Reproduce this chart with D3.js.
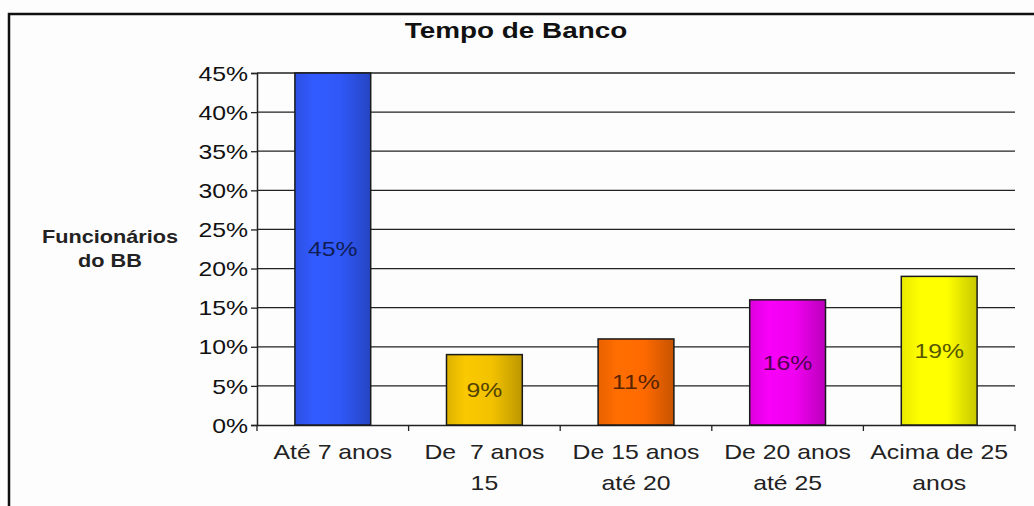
<!DOCTYPE html>
<html>
<head>
<meta charset="utf-8">
<script src="https://cdn.jsdelivr.net/npm/d3@7"></script>
<style>
  body { margin: 0; background: #fdfdfd; }
  svg { display: block; font-family: "Liberation Sans", Arial, sans-serif; }
</style>
</head>
<body>
<svg id="chart" width="1034" height="506"></svg>
<script>
"use strict";

// data
var categories = ["Até 7 anos", "De  7 anos|15", "De 15 anos|até 20", "De 20 anos|até 25", "Acima de 25|anos"];
var values = [45, 9, 11, 16, 19];
var barColors = ["#3058f8", "#f2c200", "#ff6a00", "#f000f0", "#ffff00"];
var yTicks = [0, 5, 10, 15, 20, 25, 30, 35, 40, 45];

// the original picture is stretched sideways, so is its text
var SX = 1.24;

var margin = { top: 73, right: 19, bottom: 81, left: 257 },
    width = 1034 - margin.left - margin.right,
    height = 506 - margin.top - margin.bottom;

var svg = d3.select("#chart");

// frame (left + top only)
svg.append("path")
  .attr("d", "M9,506 V14 H1034")
  .attr("fill", "none")
  .attr("stroke", "#111")
  .attr("stroke-width", 2.5);

svg.append("text")
  .attr("transform", "translate(516,38) scale(" + SX + ",1)")
  .attr("text-anchor", "middle")
  .style("font-size", "22.5px").style("font-weight", "bold")
  .attr("fill", "#111")
  .text("Tempo de Banco");

svg.append("text")
  .attr("transform", "translate(110,243) scale(" + SX + ",1)")
  .attr("text-anchor", "middle")
  .style("font-size", "17.5px").style("font-weight", "bold")
  .attr("fill", "#222")
  .selectAll("tspan")
  .data(["Funcionários", "do BB"])
  .join("tspan")
  .attr("x", 0)
  .attr("dy", function (d, i) { return i ? 24 : 0; })
  .text(function (d) { return d; });

var g = svg.append("g").attr("transform", "translate(" + margin.left + "," + margin.top + ")");

var x = d3.scaleBand().domain(categories).range([0, width]).paddingInner(0.5).paddingOuter(0.25);
var y = d3.scaleLinear().domain([0, 45]).range([height, 0]);

// gradients per bar
var defs = svg.append("defs");
barColors.forEach(function (c, i) {
  var lg = defs.append("linearGradient").attr("id", "grad" + i)
    .attr("x1", "0%").attr("x2", "100%").attr("y1", "0%").attr("y2", "0%");
  var base = d3.color(c);
  lg.append("stop").attr("offset", "0%").attr("stop-color", base.darker(0.25));
  lg.append("stop").attr("offset", "25%").attr("stop-color", base.brighter(0.1));
  lg.append("stop").attr("offset", "60%").attr("stop-color", base);
  lg.append("stop").attr("offset", "100%").attr("stop-color", base.darker(0.7));
});

// gridlines
g.append("g")
  .selectAll("line")
  .data(yTicks.slice(1))
  .join("line")
  .attr("x1", 0).attr("x2", width)
  .attr("y1", function (d) { return y(d); })
  .attr("y2", function (d) { return y(d); })
  .attr("stroke", "#222").attr("stroke-width", 1.3);

// y axis
var yAxis = g.append("g")
  .call(d3.axisLeft(y).tickValues(yTicks).tickSize(6).tickFormat(function (d) { return d + "%"; }));
yAxis.select(".domain").attr("stroke", "#222").attr("stroke-width", 1.5);
yAxis.selectAll(".tick line").attr("stroke", "#222").attr("stroke-width", 1.3);
yAxis.selectAll(".tick text")
  .attr("x", -9 / SX).attr("dy", "0.36em")
  .attr("transform", "scale(" + SX + ",1)")
  .attr("fill", "#111")
  .style("font-size", "20px");

// x axis
var xAxis = g.append("g")
  .attr("transform", "translate(0," + height + ")")
  .call(d3.axisBottom(x).tickSize(0).tickFormat(""));
xAxis.select(".domain").attr("stroke", "#222").attr("stroke-width", 1.5);
xAxis.selectAll(".tick").remove();

// category separators (ticks between bands)
var step = x.step();
g.append("g")
  .selectAll("line")
  .data(d3.range(categories.length + 1))
  .join("line")
  .attr("x1", function (i) { return i * step; })
  .attr("x2", function (i) { return i * step; })
  .attr("y1", height).attr("y2", height + 6)
  .attr("stroke", "#222").attr("stroke-width", 1.3);

// category labels
g.append("g")
  .selectAll("text")
  .data(categories)
  .join("text")
  .attr("transform", function (d) { return "translate(" + (x(d) + x.bandwidth() / 2) + "," + (height + 34) + ") scale(" + SX + ",1)"; })
  .attr("text-anchor", "middle")
  .style("font-size", "20px")
  .style("white-space", "pre")
  .attr("fill", "#222")
  .selectAll("tspan")
  .data(function (d) { return d.split("|"); })
  .join("tspan")
  .attr("x", 0)
  .attr("dy", function (d, i) { return i ? 31 : 0; })
  .text(function (d) { return d; });

// bars
g.append("g")
  .selectAll("rect")
  .data(values)
  .join("rect")
  .attr("x", function (d, i) { return x(categories[i]); })
  .attr("y", function (d) { return y(d); })
  .attr("width", x.bandwidth())
  .attr("height", function (d) { return height - y(d); })
  .attr("fill", function (d, i) { return "url(#grad" + i + ")"; })
  .attr("stroke", "#1a1a1a").attr("stroke-width", 1.5);

// value labels
g.append("g")
  .selectAll("text")
  .data(values)
  .join("text")
  .attr("transform", function (d, i) {
    return "translate(" + (x(categories[i]) + x.bandwidth() / 2) + "," + ((y(d) + height) / 2) + ") scale(" + SX + ",1)";
  })
  .attr("dy", "0.36em")
  .attr("text-anchor", "middle")
  .style("font-size", "20px")
  .attr("fill", function (d, i) { return d3.color(barColors[i]).darker(3); })
  .text(function (d) { return d + "%"; });
</script>
</body>
</html>
